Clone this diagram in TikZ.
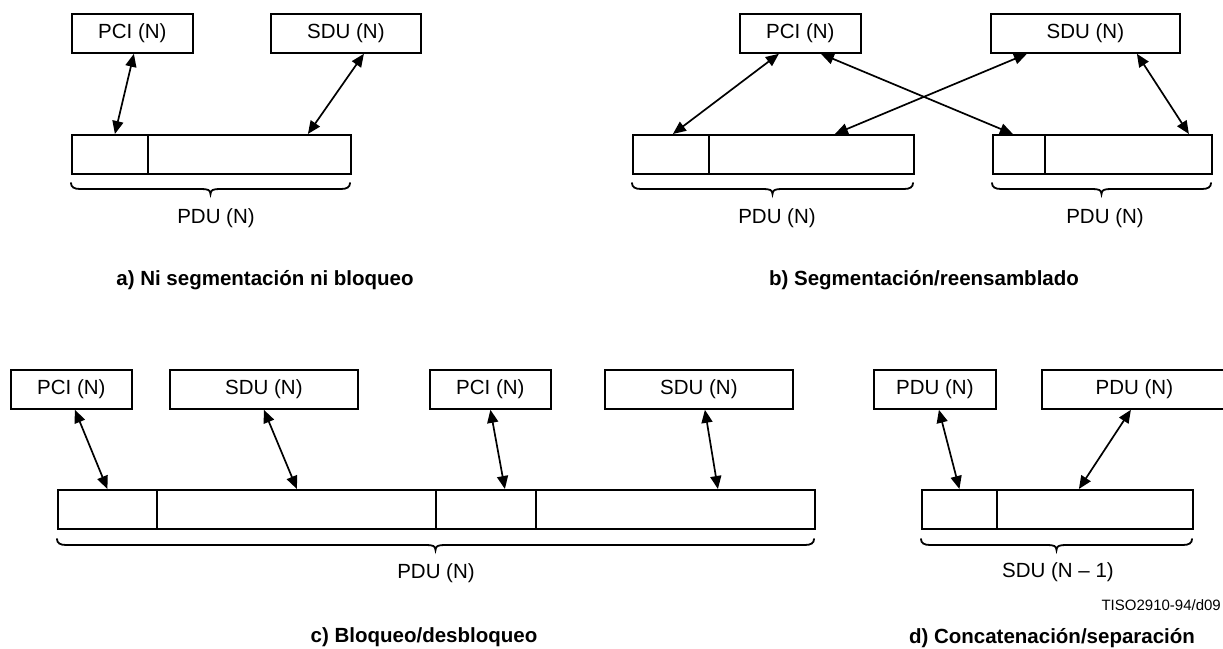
\documentclass[tikz,border=0pt]{standalone}
\usepackage{fontspec}
\setmainfont{Liberation Sans}
\usetikzlibrary{arrows.meta}
\tikzset{
  box/.style={draw, line width=1.8pt, minimum height=39pt, inner sep=0pt, anchor=north west,
              font=\fontsize{20.5}{24}\selectfont},
  cell/.style={draw, line width=1.8pt, minimum height=39pt, inner sep=0pt, anchor=north west},
  link/.style={line width=1.7pt, {Triangle[length=13pt,width=11pt]}-{Triangle[length=13pt,width=11pt]}},
  bracestyle/.style={line width=1.8pt, line cap=round},
  lbl/.style={inner sep=0pt, font=\fontsize{20.5}{24}\selectfont},
  capt/.style={inner sep=0pt, font=\fontsize{20.5}{24}\selectfont\bfseries},
}
\newcommand{\mybrace}[3]{%
  \draw[bracestyle] (#1,#3) .. controls (#1,#3+4) and (#1+3,#3+6) .. (#1+9,#3+6)
    -- ({(#1+#2)/2-9},#3+6) .. controls ({(#1+#2)/2-3},#3+6) and ({(#1+#2)/2},#3+7) .. ({(#1+#2)/2},#3+11)
    .. controls ({(#1+#2)/2},#3+7) and ({(#1+#2)/2+3},#3+6) .. ({(#1+#2)/2+9},#3+6)
    -- (#2-9,#3+6) .. controls (#2-3,#3+6) and (#2,#3+4) .. (#2,#3);}
\begin{document}
\begin{tikzpicture}[x=1pt,y=-1pt]
\useasboundingbox (0,0) rectangle (1223,648);
\clip (0,0) rectangle (1223,648);

% ---------- a) ----------
\node[box, minimum width=121pt] (pciA) at (71,13) {PCI (N)};
\node[box, minimum width=150pt] (sduA) at (270,13) {SDU (N)};
\node[cell, minimum width=76pt] (a1) at (71,134) {};
\node[cell, minimum width=203pt] (a2) at (147,134) {};
\mybrace{71}{350}{183}
\node[lbl] (pduA) at (216,218) {PDU (N)};
\node[capt] (captA) at (265,280) {a) Ni segmentación ni bloqueo};
\draw[link] ([xshift=1.5pt]pciA.south) -- ([xshift=5pt]a1.north);
\draw[link] ([xshift=18pt]sduA.south) -- ([xshift=58.5pt]a2.north);

% ---------- b) ----------
\node[box, minimum width=121pt] (pciB) at (739,13) {PCI (N)};
\node[box, minimum width=189pt] (sduB) at (990,13) {SDU (N)};
\node[cell, minimum width=76pt] (b1) at (632,134) {};
\node[cell, minimum width=205pt] (b2) at (708,134) {};
\node[cell, minimum width=52pt] (b3) at (992,134) {};
\node[cell, minimum width=167pt] (b4) at (1044,134) {};
\mybrace{632}{913}{183}
\mybrace{992}{1211}{183}
\node[lbl] (pduB1) at (777,218) {PDU (N)};
\node[lbl] (pduB2) at (1105,218) {PDU (N)};
\node[capt] (captB) at (924,280) {b) Segmentación/reensamblado};
\draw[link] ([xshift=-21.5pt]pciB.south) -- ([xshift=2pt]b1.north);
\draw[link] ([xshift=20.5pt]pciB.south) -- ([xshift=-6pt]b3.north);
\draw[link] ([xshift=-58.5pt]sduB.south) -- ([xshift=23.5pt]b2.north);
\draw[link] ([xshift=51.5pt]sduB.south) -- ([xshift=60.5pt]b4.north);

% ---------- c) ----------
\node[box, minimum width=121pt] (pciC1) at (10,369) {PCI (N)};
\node[box, minimum width=188pt] (sduC1) at (169,369) {SDU (N)};
\node[box, minimum width=121pt] (pciC2) at (429,369) {PCI (N)};
\node[box, minimum width=188pt] (sduC2) at (604,369) {SDU (N)};
\node[cell, minimum width=99pt] (c1) at (57,489) {};
\node[cell, minimum width=279pt] (c2) at (156,489) {};
\node[cell, minimum width=100pt] (c3) at (435,489) {};
\node[cell, minimum width=279pt] (c4) at (535,489) {};
\mybrace{57}{814}{539}
\node[lbl] (pduC) at (436,573) {PDU (N)};
\node[capt] (captC) at (424,637) {c) Bloqueo/desbloqueo};
\draw[link] ([xshift=3.5pt]pciC1.south) -- (c1.north);
\draw[link] (sduC1.south) -- ([xshift=0.5pt]c2.north);
\draw[link] (pciC2.south) -- ([xshift=19pt]c3.north);
\draw[link] ([xshift=6pt]sduC2.south) -- ([xshift=42.5pt]c4.north);

% ---------- d) ----------
\node[box, minimum width=122pt] (pduD1) at (873,369) {PDU (N)};
\node[box, minimum width=185pt] (pduD2) at (1041,369) {PDU (N)};
\node[cell, minimum width=75pt] (d1) at (921,489) {};
\node[cell, minimum width=196pt] (d2) at (996,489) {};
\mybrace{921}{1192}{539}
\node[lbl] (sduD) at (1058,572) {SDU (N – 1)};
\node[inner sep=0pt, anchor=east, font=\fontsize{15}{18}\selectfont] (tiso) at (1221,605) {TISO2910-94/d09};
\node[capt] (captD) at (1052,638) {d) Concatenación/separación};
\draw[link] ([xshift=4pt]pduD1.south) -- (d1.north);
\draw[link] ([xshift=-3.5pt]pduD2.south) -- ([xshift=-16pt]d2.north);
\end{tikzpicture}
\end{document}
